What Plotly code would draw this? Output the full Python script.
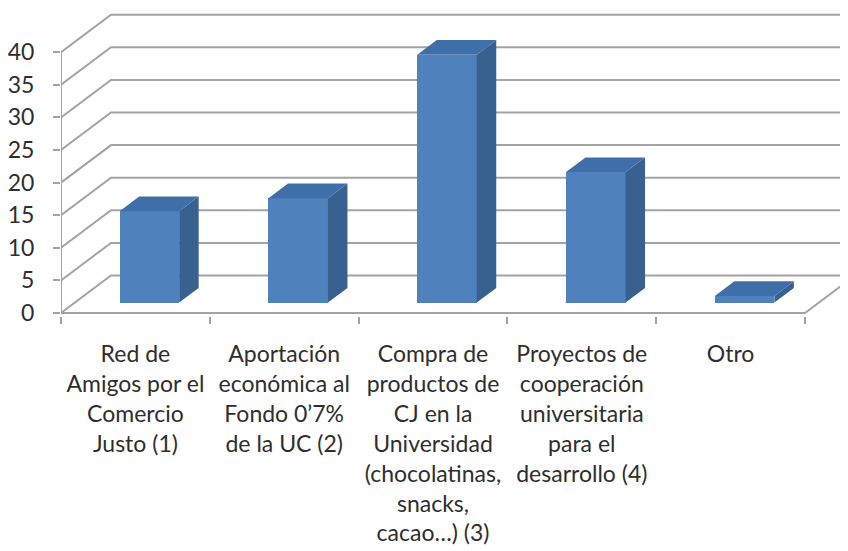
import plotly.graph_objects as go

# ---- data ----
categories = [
    "Red de<br>Amigos por el<br>Comercio<br>Justo (1)",
    "Aportación<br>económica al<br>Fondo 0’7%<br>de la UC (2)",
    "Compra de<br>productos de<br>CJ en la<br>Universidad<br>(chocolatinas,<br>snacks,<br>cacao…) (3)",
    "Proyectos de<br>cooperación<br>universitaria<br>para el<br>desarrollo (4)",
    "Otro",
]
values = [14, 16, 38, 20, 1]
y_ticks = [0, 5, 10, 15, 20, 25, 30, 35, 40]

# ---- oblique 3D projection parameters (in axis units) ----
N = len(categories)
DX = 0.336   # depth shift along x (category units)
DY = 5.75    # depth shift along y (value units)
D0, D1 = 0.28, 0.67   # bar front / back depth
W = 0.40              # bar width (category units)

FRONT = "#4F81BD"
SIDE = "#38618F"
TOP = "#3E6FA8"
GRID = "#a3a3a3"
TXT = "#2e2e2e"


def P(x, v, d):
    return x + d * DX, v + d * DY


def path(points):
    s = ""
    for i, (x, y) in enumerate(points):
        s += ("M" if i == 0 else "L") + f"{x},{y} "
    return s.strip()


shapes = []
# back-wall gridlines (with left-wall diagonals)
for t in y_ticks:
    pts = [P(0, t, 0), P(0, t, 1), P(N, t, 1)]
    shapes.append(dict(type="path", path=path(pts), xref="x", yref="y",
                       line=dict(color=GRID, width=2), layer="below"))
# floor front edge, right floor edge, vertical value axis
for pts in ([P(0, 0, 0), P(N, 0, 0)],
            [P(N, 0, 0), P(N, 0, 1)],
            [P(0, 0, 0), P(0, max(y_ticks), 0)]):
    shapes.append(dict(type="path", path=path(pts), xref="x", yref="y",
                       line=dict(color=GRID, width=2), layer="below"))

centers = [i + 0.5 for i in range(N)]

fig = go.Figure()
# front faces as real bars
fig.add_trace(go.Bar(
    x=[c + D0 * DX for c in centers],
    y=values,
    base=D0 * DY,
    width=W,
    marker=dict(color=FRONT, line=dict(width=0)),
    hoverinfo="skip",
))

# side and top faces
side_x, side_y, top_x, top_y = [], [], [], []
for c, v in zip(centers, values):
    xl, xr = c - W / 2, c + W / 2
    for p in [P(xr, 0, D0), P(xr, 0, D1), P(xr, v, D1), P(xr, v, D0)]:
        side_x.append(p[0]); side_y.append(p[1])
    side_x.append(None); side_y.append(None)
    for p in [P(xl, v, D0), P(xr, v, D0), P(xr, v, D1), P(xl, v, D1)]:
        top_x.append(p[0]); top_y.append(p[1])
    top_x.append(None); top_y.append(None)

fig.add_trace(go.Scatter(x=side_x, y=side_y, mode="lines", fill="toself",
                         fillcolor=SIDE, line=dict(width=0, color=SIDE),
                         hoverinfo="skip"))
fig.add_trace(go.Scatter(x=top_x, y=top_y, mode="lines", fill="toself",
                         fillcolor=TOP, line=dict(width=0, color=TOP),
                         hoverinfo="skip"))

# page body has an 8px margin; figure is sized/positioned to compensate
OFF = 8
FW, FH = 848 - OFF, 551 - OFF
PX_PER_CAT = 148.8
PX_PER_VAL = 6.52
left, right, top_px, bottom_px = 61 - OFF, 848 - OFF, 8 - OFF, 316 - OFF
y0_px = 313 - OFF
x_max = (right - left) / PX_PER_CAT
y_top = (y0_px - top_px) / PX_PER_VAL
y_bot = (y0_px - bottom_px) / PX_PER_VAL

font = "Lato, 'Open Sans', sans-serif"

fig.update_layout(
    width=FW, height=FH,
    margin=dict(l=left, r=FW - right, t=top_px, b=FH - bottom_px,
                autoexpand=False),
    paper_bgcolor="white", plot_bgcolor="white",
    showlegend=False,
    shapes=shapes,
    bargap=0,
    xaxis=dict(
        range=[0, x_max], automargin=False,
        tickmode="array", tickvals=centers, ticktext=categories,
        ticks="", showline=False, showgrid=False, zeroline=False,
        tickfont=dict(family=font, size=23, color=TXT),
        ticklabelstandoff=22,
        minor=dict(tickmode="array", tickvals=list(range(N + 1)),
                   ticks="outside", ticklen=7, tickwidth=2,
                   tickcolor=GRID, showgrid=False),
        fixedrange=True,
    ),
    yaxis=dict(
        range=[y_bot, y_top], automargin=False,
        tickmode="array", tickvals=y_ticks,
        ticks="outside", ticklen=7, tickwidth=2, tickcolor=GRID,
        showline=False, showgrid=False, zeroline=False,
        tickfont=dict(family=font, size=23, color=TXT),
        ticklabelstandoff=14,
        fixedrange=True,
    ),
)

fig.write_html("out.html")
